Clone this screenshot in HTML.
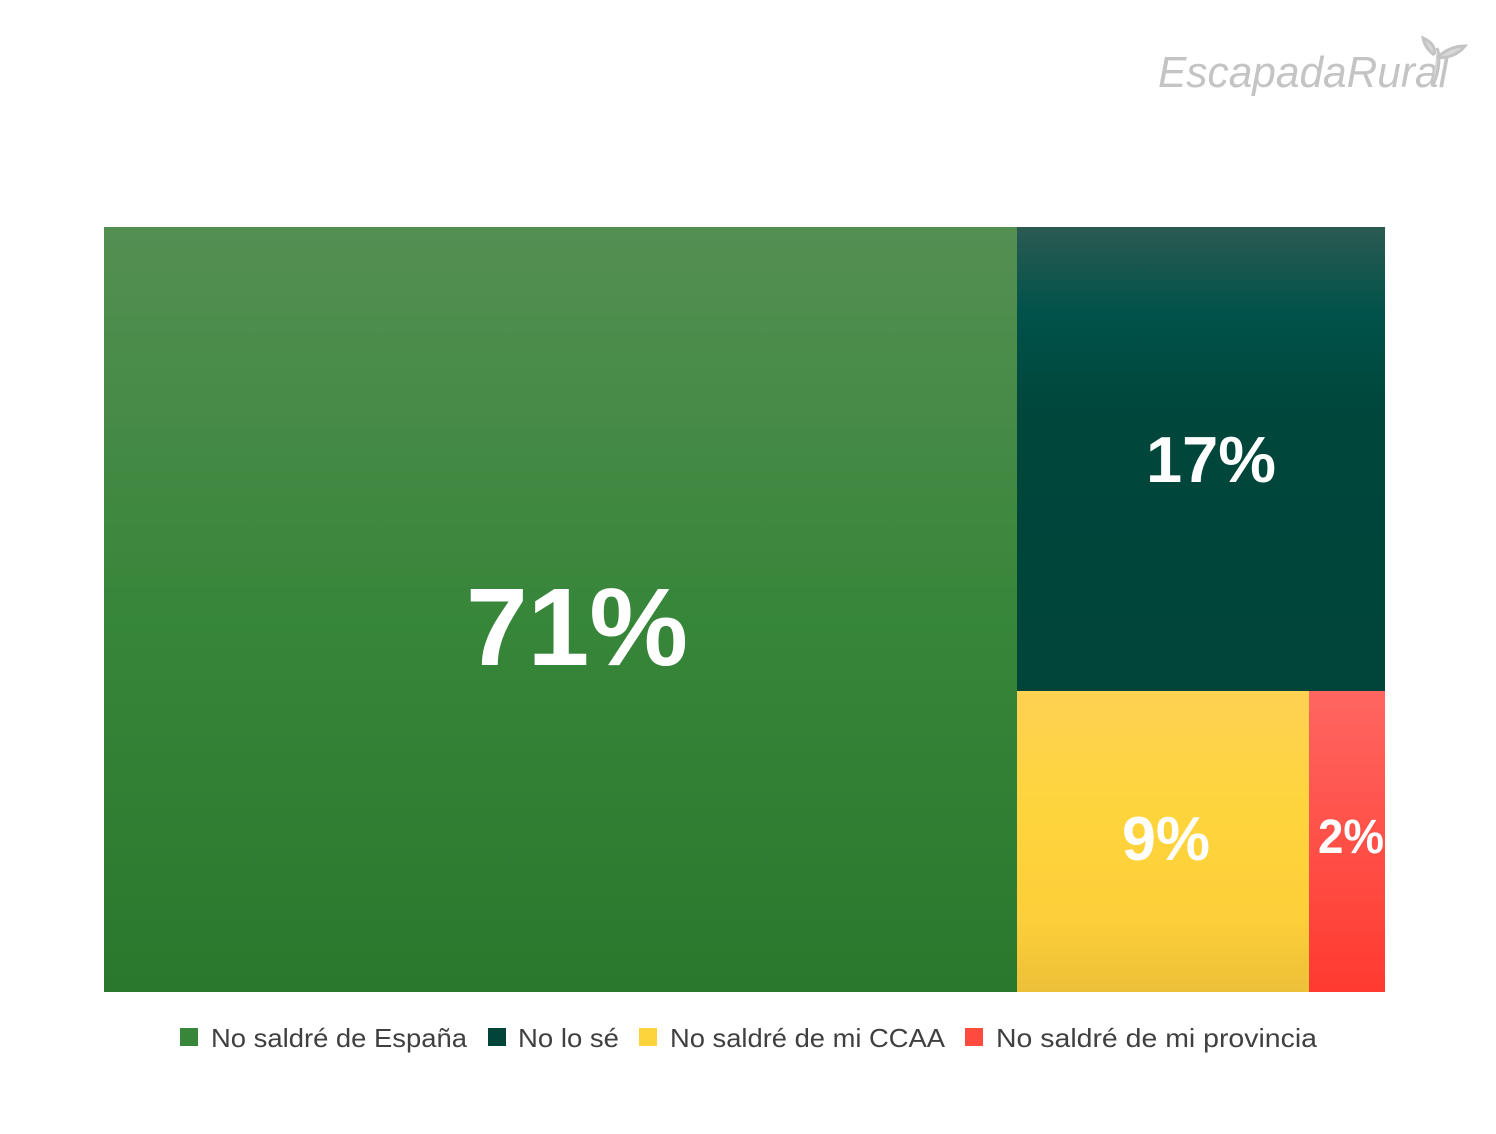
<!DOCTYPE html>
<html><head><meta charset="utf-8"><style>body{margin:0;background:#fff}</style></head><body>
<svg width="1496" height="1134" xmlns="http://www.w3.org/2000/svg" style="display:block">
<defs>
<linearGradient id="g" x1="0" y1="0" x2="0" y2="1"><stop offset="0" stop-color="#548f52"/><stop offset="0.5" stop-color="#37863a"/><stop offset="1" stop-color="#2a782d"/></linearGradient>
<linearGradient id="d" x1="0" y1="0" x2="0" y2="1"><stop offset="0" stop-color="#2a5a52"/><stop offset="0.19" stop-color="#00524a"/><stop offset="0.4" stop-color="#00463b"/><stop offset="1" stop-color="#00443a"/></linearGradient>
<linearGradient id="y" x1="0" y1="0" x2="0" y2="1"><stop offset="0" stop-color="#fed252"/><stop offset="0.4" stop-color="#fed43c"/><stop offset="0.75" stop-color="#fdcf3a"/><stop offset="1" stop-color="#ecc038"/></linearGradient>
<linearGradient id="r" x1="0" y1="0" x2="0" y2="1"><stop offset="0" stop-color="#ff6660"/><stop offset="1" stop-color="#ff3a30"/></linearGradient>
</defs>
<text x="1158" y="87" font-family="Liberation Sans, sans-serif" font-style="italic" font-size="44" fill="#c4c4c4" textLength="290" lengthAdjust="spacingAndGlyphs">EscapadaRural</text>
<path d="M1433 85 C1440 70 1440 55 1437 48 M1437 58 C1445 50 1455 46 1465 46 C1458 55 1448 58 1437 58 M1434 55 C1428 50 1424 44 1423 38 C1432 42 1436 48 1434 55" stroke="#c4c4c4" stroke-width="3" fill="#d8d8d8"/>
<rect x="104" y="227" width="913" height="765" fill="url(#g)"/>
<rect x="1017" y="227" width="368" height="464" fill="url(#d)"/>
<rect x="1017" y="691" width="292" height="301" fill="url(#y)"/>
<rect x="1309" y="691" width="76" height="301" fill="url(#r)"/>
<g font-family="Liberation Sans, sans-serif" font-weight="bold" fill="#fff" text-anchor="middle">
<text x="577" y="665" font-size="110" textLength="222" lengthAdjust="spacingAndGlyphs">71%</text>
<text x="1211" y="482" font-size="65" textLength="130" lengthAdjust="spacingAndGlyphs">17%</text>
<text x="1166" y="860" font-size="62" textLength="88" lengthAdjust="spacingAndGlyphs">9%</text>
<text x="1351" y="853" font-size="48" textLength="66" lengthAdjust="spacingAndGlyphs">2%</text>
</g>
<g font-family="Liberation Sans, sans-serif" font-size="26" fill="#404040">
<rect x="180" y="1028" width="18" height="18" fill="#37863a"/>
<text x="211" y="1047" textLength="256" lengthAdjust="spacingAndGlyphs">No saldré de España</text>
<rect x="488" y="1028" width="18" height="18" fill="#00443a"/>
<text x="518" y="1047" textLength="101" lengthAdjust="spacingAndGlyphs">No lo sé</text>
<rect x="639" y="1028" width="18" height="18" fill="#fed43c"/>
<text x="670" y="1047" textLength="275" lengthAdjust="spacingAndGlyphs">No saldré de mi CCAA</text>
<rect x="965" y="1028" width="18" height="18" fill="#ff4a40"/>
<text x="996" y="1047" textLength="321" lengthAdjust="spacingAndGlyphs">No saldré de mi provincia</text>
</g>
</svg>
</body></html>
